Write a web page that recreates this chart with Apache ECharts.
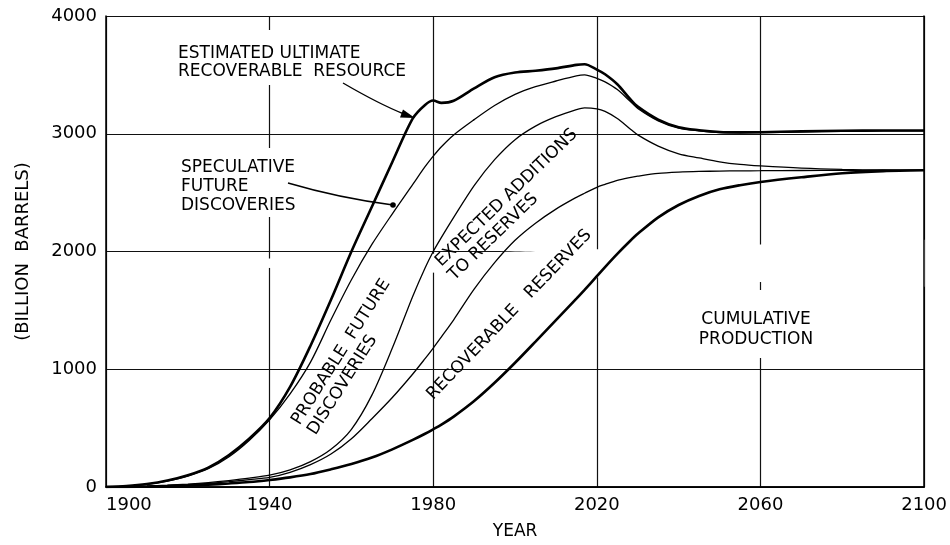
<!DOCTYPE html>
<html>
<head>
<meta charset="utf-8">
<script src="https://cdn.jsdelivr.net/npm/echarts@6/dist/echarts.min.js"></script>
<style>
  html, body { margin: 0; padding: 0; background: #fff; }
  #chart { width: 950px; height: 545px; }
</style>
</head>
<body>
<div id="chart"></div>
<script>
// Years at which each boundary curve is sampled (billion barrels)
const years = [1900,1905,1910,1915,1920,1925,1930,1935,1940,1945,1950,1955,1960,1965,1970,1975,1978,1980,1982,1985,1990,1995,2000,2005,2010,2015,2017,2020,2022,2025,2028,2030,2035,2040,2045,2050,2055,2060,2070,2080,2090,2100];

// Estimated ultimate recoverable resource (top of the speculative band)
const ultimateResource = [0,8,25,55,100,165,270,410,585,850,1200,1590,2000,2380,2760,3130,3245,3282,3262,3280,3385,3480,3520,3535,3555,3585,3590,3545,3505,3420,3300,3230,3120,3055,3030,3015,3012,3013,3020,3025,3028,3028];

// Top of probable future discoveries
const probableTop = [0,7,22,50,92,155,255,395,570,790,1060,1420,1760,2060,2320,2570,2720,2810,2890,2990,3120,3240,3335,3400,3448,3492,3500,3470,3440,3375,3280,3215,3110,3048,3025,3010,3008,3009,3016,3021,3024,3024];

// Top of expected additions to reserves
const expectedTop = [0,3,8,15,25,38,55,75,100,145,215,320,490,780,1180,1620,1860,2000,2120,2290,2560,2780,2950,3065,3145,3205,3220,3212,3190,3130,3045,2990,2895,2830,2795,2762,2740,2727,2708,2697,2692,2690];

// Top of recoverable reserves
const reservesTop = [0,2,6,12,20,31,45,62,82,125,190,280,410,580,760,960,1090,1180,1275,1420,1680,1905,2095,2240,2360,2460,2495,2545,2570,2605,2628,2640,2663,2674,2680,2683,2685,2686,2688,2689,2690,2690];

// Cumulative production
const cumulativeProduction = [0,1,4,8,13,20,30,42,60,82,110,150,195,250,320,400,452,490,530,598,730,885,1055,1235,1418,1600,1675,1790,1868,1980,2085,2150,2290,2395,2472,2528,2563,2590,2630,2665,2683,2690];

// Axis ticks
const yearTicks = [1900, 1940, 1980, 2020, 2060, 2100];
const barrelTicks = [0, 1000, 2000, 3000, 4000];

const FONT = 'DejaVu Sans';
const INK = '#000';

const pairs = (vals) => years.map((y, i) => [y, vals[i]]);
const bandHeight = ultimateResource.map((v, i) => v - cumulativeProduction[i]);

const SMOOTH = 0.3;

function curve(name, vals, width) {
  return {
    name, type: 'line', data: pairs(vals), smooth: SMOOTH, symbol: 'none', z: 4,
    lineStyle: { color: INK, width: width }, silent: true, animation: false
  };
}

const chart = echarts.init(document.getElementById('chart'), null, { renderer: 'canvas' });

const deg = Math.PI / 180;
const labelStyle = { fontFamily: FONT, fontSize: 17, fill: INK };

chart.setOption({
  animation: false,
  backgroundColor: '#fff',
  grid: { left: 106, right: 22, top: 16, bottom: 56 },
  xAxis: [
    {
      type: 'value', min: yearTicks[0], max: yearTicks[yearTicks.length - 1], interval: 40,
      name: 'YEAR', nameLocation: 'middle', nameGap: 36,
      nameTextStyle: { fontFamily: FONT, fontSize: 17, color: INK },
      axisLine: { show: true, lineStyle: { color: INK, width: 1.5 } },
      axisTick: { show: false },
      axisLabel: { fontFamily: FONT, fontSize: 18, color: INK, margin: 9,
        alignMinLabel: 'left', formatter: (v) => String(v) },
      splitLine: { show: true, lineStyle: { color: '#111', width: 1.2 } }
    },
    {
      type: 'value', position: 'top', min: 1900, max: 2100, z: 10,
      axisLine: { show: true, lineStyle: { color: INK, width: 1.5 } },
      axisTick: { show: false }, axisLabel: { show: false }, splitLine: { show: false }
    }
  ],
  yAxis: [
    {
      type: 'value', min: barrelTicks[0], max: barrelTicks[barrelTicks.length - 1], interval: 1000,
      name: '(BILLION  BARRELS)', nameLocation: 'middle', nameGap: 74, nameRotate: 90,
      nameTextStyle: { fontFamily: FONT, fontSize: 18, color: INK },
      axisLine: { show: true, lineStyle: { color: INK, width: 1.5 } },
      axisTick: { show: false },
      axisLabel: { fontFamily: FONT, fontSize: 18, color: INK, margin: 9, formatter: (v) => String(v) },
      splitLine: { show: true, lineStyle: { color: '#111', width: 1.2 } }
    },
    {
      type: 'value', position: 'right', min: 0, max: 4000, z: 10,
      axisLine: { show: true, lineStyle: { color: INK, width: 1.5 } },
      axisTick: { show: false }, axisLabel: { show: false }, splitLine: { show: false }
    }
  ],
  series: [
    // White band between cumulative production and the ultimate resource hides the grid
    {
      name: 'bandBase', type: 'line', stack: 'band', data: pairs(cumulativeProduction),
      smooth: SMOOTH, symbol: 'none', lineStyle: { width: 0, opacity: 0 }, silent: true, z: 2
    },
    {
      name: 'band', type: 'line', stack: 'band', data: pairs(bandHeight),
      smooth: SMOOTH, symbol: 'none', lineStyle: { width: 0, opacity: 0 },
      areaStyle: { color: '#fff', opacity: 1 }, silent: true, z: 2
    },
    curve('Estimated ultimate recoverable resource', ultimateResource, 2.6),
    curve('Probable future discoveries', probableTop, 1.3),
    curve('Expected additions to reserves', expectedTop, 1.3),
    curve('Recoverable reserves', reservesTop, 1.3),
    curve('Cumulative production', cumulativeProduction, 2.6)
  ],
  graphic: [
    {
      type: 'text', x: 174, y: 30, z: 100,
      style: Object.assign({ text: 'ESTIMATED ULTIMATE\nRECOVERABLE  RESOURCE', lineHeight: 18,
        backgroundColor: '#fff', padding: [15, 6, 4, 4] }, labelStyle)
    },
    {
      type: 'text', x: 177, y: 148, z: 100,
      style: Object.assign({ text: 'SPECULATIVE\nFUTURE\nDISCOVERIES', lineHeight: 19,
        backgroundColor: '#fff', padding: [10, 6, 2, 4] }, labelStyle)
    },
    {
      type: 'text', x: 756, y: 290, z: 100,
      style: Object.assign({ text: 'CUMULATIVE\nPRODUCTION', lineHeight: 20, align: 'center',
        backgroundColor: '#fff', padding: [20, 8, 8, 8] }, labelStyle)
    },
    {
      type: 'text', x: 303, y: 428, rotation: 57.5 * deg, z: 100,
      style: Object.assign({ text: 'PROBABLE  FUTURE', align: 'left', verticalAlign: 'bottom' }, labelStyle)
    },
    {
      type: 'text', x: 319, y: 438, rotation: 57.5 * deg, z: 100,
      style: Object.assign({ text: 'DISCOVERIES', align: 'left', verticalAlign: 'bottom' }, labelStyle)
    },
    {
      type: 'text', x: 444, y: 270, rotation: 44 * deg, z: 100,
      style: Object.assign({ text: 'EXPECTED ADDITIONS', align: 'left', verticalAlign: 'bottom' }, labelStyle)
    },
    {
      type: 'text', x: 457, y: 284, rotation: 44 * deg, z: 100,
      style: Object.assign({ text: 'TO RESERVES', align: 'left', verticalAlign: 'bottom' }, labelStyle)
    },
    {
      type: 'text', x: 436, y: 403, rotation: 46 * deg, z: 100,
      style: Object.assign({ text: 'RECOVERABLE   RESERVES', align: 'left', verticalAlign: 'bottom' }, labelStyle)
    },
    // Leader arrow to the ultimate resource curve
    {
      type: 'bezierCurve', z: 100,
      shape: { x1: 343, y1: 83, x2: 404, y2: 114, cpx1: 379, cpy1: 104 },
      style: { stroke: INK, lineWidth: 1.4, fill: null }
    },
    {
      type: 'polygon', z: 100,
      shape: { points: [[415, 118], [400, 117.5], [403, 109.5]] },
      style: { fill: INK }
    },
    // Leader to the speculative band
    {
      type: 'bezierCurve', z: 100,
      shape: { x1: 288, y1: 183, x2: 393, y2: 205, cpx1: 339, cpy1: 198 },
      style: { stroke: INK, lineWidth: 1.4, fill: null }
    },
    {
      type: 'circle', z: 100,
      shape: { cx: 393, cy: 205, r: 2.8 },
      style: { fill: INK }
    }
  ]
});
</script>
</body>
</html>
